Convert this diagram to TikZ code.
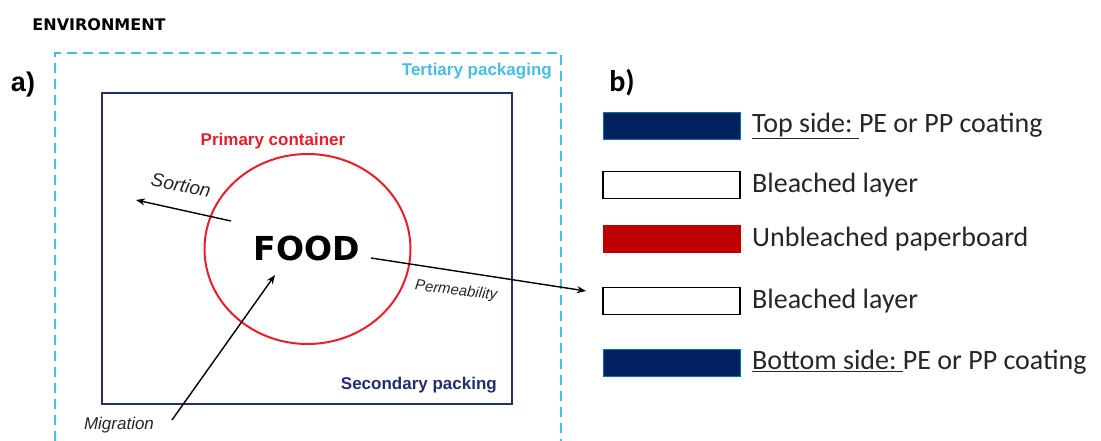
\documentclass[tikz,border=0pt]{standalone}
\usepackage{fontspec}
\setmainfont{Liberation Sans}
\newfontfamily\heavyfont{DejaVu Sans}
\newfontfamily\calfont{Carlito}
\usetikzlibrary{arrows.meta}
\definecolor{tertcyan}{RGB}{70,190,230}
\definecolor{secnavy}{RGB}{34,46,110}
\definecolor{primred}{RGB}{232,30,40}
\definecolor{coatnavy}{RGB}{0,32,96}
\definecolor{boardred}{RGB}{192,0,0}
\tikzset{
  lbl/.style={inner sep=0pt, font=\bfseries\fontsize{17}{20}\selectfont},
  flow/.style={draw=black, line width=1.4pt, -{Stealth[length=9pt,width=7pt]}},
  flowlbl/.style={inner sep=0pt, text=black!85},
  layer/.style={minimum width=137pt, minimum height=27pt, inner sep=0pt},
  legtext/.style={anchor=west, inner sep=0pt, font=\calfont\fontsize{28}{32}\selectfont, text=black!85}
}
\begin{document}
\begin{tikzpicture}[x=1pt,y=-1pt]
\useasboundingbox (0,0) rectangle (1101,441);

% panel a) ------------------------------------------------------------
\node[inner sep=0pt, font=\heavyfont\bfseries\fontsize{16}{18}\selectfont] (env) at (99,25) {ENVIRONMENT};
\node[inner sep=0pt, font=\bfseries\fontsize{27}{30}\selectfont] (pa) at (23,85) {a)};

% tertiary packaging (open at the bottom)
\draw[tertcyan, line width=1.8pt, dash pattern=on 10pt off 6pt]
  (55,441) -- (55,53) -- (561,53) -- (561,441);
\node[lbl, text=tertcyan, anchor=east] (tert) at (552,71) {Tertiary packaging};

% secondary packing
\draw[secnavy, line width=2pt] (102,93) rectangle (512,404);
\node[lbl, text=secnavy, anchor=east] (sec) at (497,385) {Secondary packing};

% primary container
\draw[primred, line width=2pt] (307.5,249) ellipse [x radius=103, y radius=95];
\node[lbl, text=primred] (prim) at (273,141) {Primary container};

\node[inner sep=0pt, font=\heavyfont\bfseries\fontsize{33}{36}\selectfont] (food) at (307,248) {FOOD};

% exchanges
\coordinate (sorA) at (231,221);
\coordinate (sorB) at (136,200);
\draw[flow] (sorA) -- (sorB);
\node[flowlbl, rotate=-11, font=\itshape\fontsize{19}{22}\selectfont] (sor) at (181,185) {Sortion};

\coordinate (migA) at (172,420);
\coordinate (migB) at (275,275);
\draw[flow] (migA) -- (migB);
\node[flowlbl, font=\itshape\fontsize{17}{20}\selectfont] (mig) at (119,425) {Migration};

\coordinate (perA) at (371,258);
\coordinate (perB) at (586,291);
\draw[flow] (perA) -- (perB);
\node[flowlbl, rotate=-7, font=\itshape\fontsize{15}{18}\selectfont] (per) at (456,291) {Permeability};

% panel b) ------------------------------------------------------------
\node[inner sep=0pt, font=\calfont\bfseries\fontsize{30}{34}\selectfont] (pb) at (622,83) {b)};

\node[layer, fill=coatnavy, draw=coatnavy!60!cyan, line width=0.6pt] (l1) at (671.5,126) {};
\node[layer, fill=white, draw=black, line width=1.8pt] (l2) at (671.5,185) {};
\node[layer, fill=boardred, draw=boardred] (l3) at (671.5,239) {};
\node[layer, fill=white, draw=black, line width=1.8pt] (l4) at (671.5,301) {};
\node[layer, fill=coatnavy, draw=coatnavy!60!cyan, line width=0.6pt] (l5) at (671.5,362.5) {};

\node[legtext] (t1) at (752,126) {\underline{Top side:\ }PE or PP coating};
\node[legtext] (t2) at (752,185) {Bleached layer};
\node[legtext] (t3) at (752,239) {Unbleached paperboard};
\node[legtext] (t4) at (752,301) {Bleached layer};
\node[legtext] (t5) at (752,362.5) {\underline{Bottom side:\ }PE or PP coating};
\end{tikzpicture}
\end{document}
